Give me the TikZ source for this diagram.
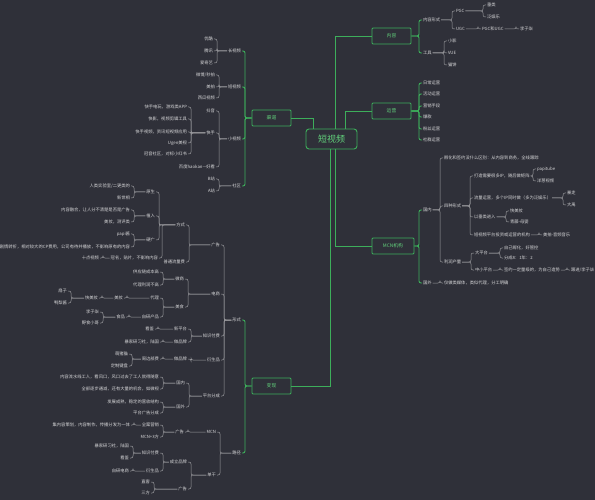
\documentclass[tikz,border=0pt]{standalone}
\usepackage{fontspec}
\setmainfont{Noto Sans CJK SC}
\usepackage{tikz}
\usetikzlibrary{positioning}
\definecolor{bg}{HTML}{2F3039}
\definecolor{grn}{HTML}{3DAE5B}
\definecolor{gtx}{HTML}{62D27C}
\definecolor{lnk}{HTML}{9A9A9E}
\definecolor{tx}{HTML}{D6D6D8}
% bracket links: parent on the right (lk) or on the left (rk)
\newcommand\lk[3][gl]{\foreach \ch in {#3}{\draw[#1] (#2.west) -| ([xshift=3pt]\ch.east) -- (\ch.east);}}
\newcommand\rk[3][gl]{\foreach \ch in {#3}{\draw[#1] (#2.east) -| ([xshift=-3pt]\ch.west) -- (\ch.west);}}

\begin{document}
\begin{tikzpicture}[x=1pt,y=-1pt,
  font=\fontsize{4.3}{5.2}\selectfont,
  txt/.style={text=tx,inner sep=0.8pt},
  lt/.style={txt,anchor=east},
  rt/.style={txt,anchor=west},
  box/.style={draw=grn,line width=0.9pt,rounded corners=1pt,fill=bg,text=gtx,minimum width=39pt,minimum height=16pt,inner sep=1pt,font=\fontsize{4.8}{5.5}\selectfont},
  root/.style={box,rounded corners=3pt,minimum width=51pt,minimum height=20pt,font=\fontsize{9}{10}\selectfont},
  gl/.style={draw=lnk,line width=0.5pt,rounded corners=2pt},
  gb/.style={draw=grn,line width=0.9pt,rounded corners=2pt},
  gk/.style={draw=grn,line width=0.9pt},
]
\fill[bg] (0,0) rectangle (595,500);
\useasboundingbox (0,0) rectangle (595,500);

% main boxes
\node[root] (root) at (331.5,139) {短视频};
\node[box] (qd) at (271.5,118) {渠道};
\node[box] (nr) at (391.5,36) {内容};
\node[box] (yy) at (391.5,111) {运营};
\node[box,minimum width=42pt] (mcn) at (393,246) {MCN机构};
\node[box] (bx) at (271.5,386) {变现};

\draw[gk] (qd.east) -| ([xshift=-18.5pt]root.north);
\draw[gk] ([xshift=3.5pt]root.north) |- (nr.west);
\draw[gk] ([xshift=13.5pt]root.north) |- (yy.west);
\draw[gk] ([xshift=3.5pt]root.south) |- (mcn.west);
\draw[gk] ([xshift=-1.5pt]root.south) |- (bx.east);

% ---- 内容
\node[rt] (nrxs) at (422,20) {内容形式};
\node[rt] (gj) at (422,53) {工具};
\node[rt] (pgc) at (455,11) {PGC};
\node[rt] (ugc) at (455,29) {UGC};
\node[rt] (cl) at (486,5) {垂类};
\node[rt] (fyl) at (486,17) {泛娱乐};
\node[rt] (pu) at (481,29) {PGC和UGC};
\node[rt] (lzq) at (519,29) {李子柒};
\node[rt] (xy) at (447,41) {小影};
\node[rt] (vue) at (447,53) {VUE};
\node[rt] (mb) at (447,65) {猫饼};
\rk[gb]{nr}{nrxs,gj}
\rk{nrxs}{pgc,ugc}
\rk{pgc}{cl,fyl}
\rk{ugc}{pu}
\rk{pu}{lzq}
\rk{gj}{xy,vue,mb}

% ---- 运营
\node[rt] (yy1) at (422,83) {日常运营};
\node[rt] (yy2) at (422,94) {活动运营};
\node[rt] (yy3) at (422,106) {营销手段};
\node[rt] (yy4) at (422,117) {爆款};
\node[rt] (yy5) at (422,129) {粉丝运营};
\node[rt] (yy6) at (422,140) {社群运营};
\rk[gb]{yy}{yy1,yy2,yy3,yy4,yy5,yy6}

% ---- MCN机构
\node[rt] (gn) at (422,210) {国内};
\node[rt] (gw) at (422,283) {国外};
\node[rt] (fh) at (443,158) {孵化和签约没什么区别：从内容到商务，全线跟踪};
\node[rt] (szxs) at (443,206) {四种形式};
\node[rt] (lr) at (443,262) {利润产量};
\node[rt] (xs1) at (473,176) {打造需要很多IP，随后做矩阵};
\node[rt] (xs2) at (473,198) {流量运营，多个IP同时做（多为泛娱乐）};
\node[rt] (xs3) at (473,217) {以垂类进入};
\node[rt] (xs4) at (473,235) {短视频平台投资或运营的机构};
\node[rt] (papi) at (536,169) {papitube};
\node[rt] (yc) at (536,181) {洋葱视频};
\node[rt] (bz) at (566,193) {暴走};
\node[rt] (dy2) at (566,205) {大禹};
\node[rt] (kmz2) at (509,211) {快美妆};
\node[rt] (qt) at (509,222) {青藤-母婴};
\node[rt] (mp2) at (542,235) {美拍-音频音乐};
\node[rt] (dpt) at (474,253) {大平台};
\node[rt] (zxpt) at (474,270) {中小平台};
\node[rt] (zj) at (503,248) {自己孵化，好管控};
\node[rt] (fc) at (503,258) {分成8：1年：2};
\node[rt] (qy) at (503,270) {签约一定量级的，为自己造势};
\node[rt] (gjl) at (570,270) {跟进/李子柒};
\node[rt] (gwt) at (443,283) {仅做类媒体，类似代理，分工明确};
\rk[gb]{mcn}{gn,gw}
\rk{gn}{fh,szxs,lr}
\rk{szxs}{xs1,xs2,xs3,xs4}
\rk{xs1}{papi,yc}
\rk{xs2}{bz,dy2}
\rk{xs3}{kmz2,qt}
\rk{xs4}{mp2}
\rk{lr}{dpt,zxpt}
\rk{dpt}{zj,fc}
\rk{zxpt}{qy}
\rk{qy}{gjl}
\rk{gw}{gwt}

% ---- 渠道
\node[lt] (csp) at (242,51) {长视频};
\node[lt] (dsp) at (242,87) {短视频};
\node[lt] (xsp) at (242,139) {小视频};
\node[lt] (sq) at (242,186) {社区};
\node[lt] (yk) at (214,39) {优酷};
\node[lt] (tx) at (214,51) {腾讯};
\node[lt] (aqy) at (214,63) {爱奇艺};
\node[lt] (wb) at (216,75) {微博/秒拍};
\node[lt] (mp) at (216,87) {美拍};
\node[lt] (xg) at (216,98) {西瓜视频};
\node[lt] (dy) at (216,111) {抖音};
\node[lt] (ks) at (216,133) {快手};
\node[lt] (bd) at (216,167) {百度haokan—好看};
\node[lt] (ks1) at (188,107) {快手电玩，游戏类APP};
\node[lt] (ks2) at (188,119) {快影，视频剪辑工具};
\node[lt] (ks3) at (188,132) {快手视频，资讯短视频应用};
\node[lt] (ks4) at (188,143) {Ugen美视};
\node[lt] (ks5) at (188,154) {冠音社区，对标小红书};
\node[lt] (bz2) at (216,179) {B站};
\node[lt] (az) at (216,191) {A站};
\lk[gb]{qd}{csp,dsp,xsp,sq}
\lk{csp}{yk,tx,aqy}
\lk{dsp}{wb,mp,xg}
\lk{xsp}{dy,ks,bd}
\lk{ks}{ks1,ks2,ks3,ks4,ks5}
\lk{sq}{bz2,az}

% ---- 变现: 形式
\node[lt] (xsh) at (242,320) {形式};
\node[lt] (lj) at (242,453) {路径};
\lk[gb]{bx}{xsh,lj}
\node[lt] (gg) at (221,245) {广告};
\node[lt] (ds) at (221,294) {电商};
\node[lt] (zf) at (221,336) {知识付费};
\node[lt] (ysp) at (221,360) {衍生品};
\node[lt] (ptfc) at (221,396) {平台分成};
\lk{xsh}{gg,ds,zf,ysp,ptfc}
% 广告
\node[lt] (fs) at (186,225) {方式};
\node[lt] (ptll) at (186,262) {普通流量费};
\lk{gg}{fs,ptll}
\node[lt] (ys) at (156,192) {原生};
\node[lt] (zr) at (156,216) {植入};
\node[lt] (yg) at (156,240) {硬广};
\node[lt] (gm) at (159,258) {冠名，贴片，不影响内容};
\lk{fs}{ys,zr,yg,gm}
\node[lt] (ys1) at (131,186) {人类实验室/二更类的};
\node[lt] (ys2) at (131,198) {新世相};
\node[lt] (zr1) at (131,210) {内容融合，让人分不清楚是否是广告};
\node[lt] (zr2) at (131,222) {美妆，测评类};
\node[lt] (yg1) at (131,234) {papi酱};
\node[lt] (yg2) at (131,247) {剧情转折，相对较大的CP费用，公司有待并播放，不影响原有的内容};
\node[lt] (sd) at (100,258) {十点视频};
\lk{ys}{ys1,ys2}
\lk{zr}{zr1,zr2}
\lk{yg}{yg1,yg2}
\lk{gm}{sd}
% 电商
\node[lt] (ws) at (185,279) {微商};
\node[lt] (ms) at (185,307) {美食};
\lk{ds}{ws,ms}
\node[lt] (ws1) at (160,272) {供应链成本高};
\node[lt] (ws2) at (160,285) {代理利润不高};
\lk{ws}{ws1,ws2}
\node[lt] (dl) at (160,298) {代理};
\node[lt] (zy) at (160,317) {自研产品};
\lk{ms}{dl,zy}
\node[lt] (mz) at (124,298) {美妆};
\node[lt] (kmz) at (99,298) {快美妆};
\node[lt] (sz) at (68,291) {扇子};
\node[lt] (ylj) at (68,303) {鸭梨酱};
\lk{dl}{mz}
\lk{mz}{kmz}
\lk{kmz}{sz,ylj}
\node[lt] (sp) at (126,317) {食品};
\node[lt] (lzq2) at (100,312) {李子柒};
\node[lt] (ysxg) at (100,323) {野食小哥};
\lk{zy}{sp}
\lk{sp}{lzq2,ysxg}
% 知识付费
\node[lt] (xpt) at (188,329) {新平台};
\node[lt] (zpp) at (188,342) {做品牌};
\lk{zf}{xpt,zpp}
\node[lt] (kj) at (155,329) {看鉴};
\node[lt] (yxs) at (160,342) {暴家研习社，陆国};
\lk{xpt}{kj}
\lk{zpp}{yxs}
% 衍生品
\node[lt] (zpp2) at (188,359) {做品牌};
\node[lt] (zb) at (160,359) {周边部费};
\node[lt] (mzm) at (129,354) {萌猪猫};
\node[lt] (dzjp) at (129,366) {定制键盘};
\lk{ysp}{zpp2}
\lk{zpp2}{zb}
\lk{zb}{mzm,dzjp}
% 平台分成
\node[lt] (gn2) at (186,383) {国内};
\node[lt] (gw2) at (186,407) {国外};
\lk{ptfc}{gn2,gw2}
\node[lt] (gn21) at (160,377) {内容流水线工人，看风口，风口过去了工人就得随意};
\node[lt] (gn22) at (160,389) {全部逐步通减，还有大量的机会，如微视};
\node[lt] (gw21) at (160,402) {发展成熟，稳定的营收结构};
\node[lt] (gw22) at (160,413) {平台广告分成};
\lk{gn2}{gn21,gn22}
\lk{gw2}{gw21,gw22}

% ---- 变现: 路径
\node[lt] (mcn2) at (217,432) {MCN};
\node[lt] (dg) at (217,475) {单干};
\lk{lj}{mcn2,dg}
\node[lt] (gg2) at (185,432) {广告};
\node[lt] (qa) at (160,425) {全案营销};
\node[lt] (m3) at (160,437) {MCN+3方};
\node[lt] (qa1) at (131,425) {集内容策划，内容制作，传播分发为一体};
\lk{mcn2}{gg2}
\lk{gg2}{qa,m3}
\lk{qa}{qa1}
\node[lt] (clpp) at (188,462) {成立品牌};
\node[lt] (gg3) at (188,489) {广告};
\lk{dg}{clpp,gg3}
\node[lt] (zf2) at (160,453) {知识付费};
\node[lt] (ysp2) at (160,471) {衍生品};
\lk{clpp}{zf2,ysp2}
\node[lt] (yxs2) at (130,446) {暴家研习社，陆国};
\node[lt] (kj2) at (130,458) {看鉴};
\node[lt] (zyds) at (130,471) {自研电商};
\lk{zf2}{yxs2,kj2}
\lk{ysp2}{zyds}
\node[lt] (zk) at (151,482) {直客};
\node[lt] (sf) at (151,493) {三方};
\lk{gg3}{zk,sf}
\end{tikzpicture}
\end{document}
